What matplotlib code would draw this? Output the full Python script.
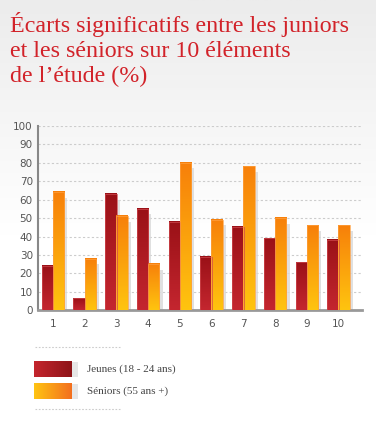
import numpy as np
import matplotlib.pyplot as plt
from matplotlib.colors import LinearSegmentedColormap
from matplotlib.patches import Rectangle

categories = ["1", "2", "3", "4", "5", "6", "7", "8", "9", "10"]
jeunes = [24, 6.5, 63, 55, 48, 29, 45, 39, 26, 38]
seniors = [64, 28, 51, 25, 80, 49, 78, 50, 46, 46]
labels = ["Jeunes (18 - 24 ans)", "Séniors (55 ans +)"]
title_lines = ["Écarts significatifs entre les juniors",
               "et les séniors sur 10 éléments",
               "de l’étude (%)"]

red_cmap = LinearSegmentedColormap.from_list("red", ["#c4262f", "#9a1117"])
orange_cmap = LinearSegmentedColormap.from_list("orange", ["#ffc40f", "#f7800a"])
red_h = LinearSegmentedColormap.from_list("redh", ["#c4252d", "#8e1418"])
orange_h = LinearSegmentedColormap.from_list("orangeh", ["#ffc412", "#f36f1e"])

fig = plt.figure(figsize=(3.76, 4.28), dpi=100)

# background gradient
bg = fig.add_axes([0, 0, 1, 1], zorder=-5)
grad = np.linspace(0, 1, 256).reshape(-1, 1)
bg.imshow(grad, aspect="auto", extent=(0, 1, 0, 1),
          cmap=LinearSegmentedColormap.from_list("bg", ["#ececec", "#ffffff"]),
          vmin=0, vmax=0.55)
bg.set_axis_off()

for i, line in enumerate(title_lines):
    fig.text(10 / 376, 1 - (32 + 25 * i) / 428, line, color="#d2232a",
             fontsize=17.3, family="Liberation Serif", va="baseline", ha="left")

ax = fig.add_axes([0.102, 0.275, 0.860, 0.431])
ax.patch.set_alpha(0)
x = np.arange(1, len(categories) + 1)
w = 0.36
vgrad = np.linspace(0, 1, 100).reshape(-1, 1)


def draw_bar(xc, h, cmap, edge):
    ax.add_patch(Rectangle((xc - w / 2 + 0.1, 0), w, max(h - 3, 0),
                           facecolor="#d9d9d9", edgecolor="none", alpha=0.8, zorder=2))
    ax.imshow(vgrad, aspect="auto", cmap=cmap, origin="lower",
              extent=(xc - w / 2, xc + w / 2, 0, h), zorder=3)
    ax.add_patch(Rectangle((xc - w / 2, 0), w, h, facecolor="none",
                           edgecolor=edge, lw=0.5, zorder=4))


for xi, j, s in zip(x, jeunes, seniors):
    draw_bar(xi - 0.175, j, red_cmap, "#d0494f")
    draw_bar(xi + 0.175, s, orange_cmap, "#ffa040")

ax.set_xlim(0.54, 10.73)
ax.set_ylim(0, 100)
ax.set_yticks(range(0, 101, 10))
ax.set_xticks(x)
ax.set_xticklabels(categories)
ax.yaxis.grid(True, linestyle=(0, (2, 2)), color="#cccccc", lw=0.8)
ax.set_axisbelow(True)
for sp in ["top", "right"]:
    ax.spines[sp].set_visible(False)
ax.spines["left"].set_color("#888888")
ax.spines["left"].set_linewidth(1.5)
ax.spines["bottom"].set_color("#999999")
ax.spines["bottom"].set_linewidth(2)
ax.tick_params(length=0, labelsize=7.5, labelcolor="#555555", pad=4)
ax.tick_params(axis="x", pad=6)

# legend
lg = fig.add_axes([0, 0, 1, 1], zorder=5)
lg.set_axis_off()
hgrad = np.linspace(0, 1, 100).reshape(1, -1)
for y0, cm, lab in [(361, red_h, labels[0]), (383, orange_h, labels[1])]:
    lg.add_patch(Rectangle((72, y0 + 1), 6, 15, facecolor="#e6e6e6", edgecolor="none"))
    lg.imshow(hgrad, aspect="auto", cmap=cm, extent=(34, 72, y0 + 16, y0))
    lg.text(87, y0 + 8, lab, fontsize=8, family="Liberation Serif",
            color="#444444", va="center", ha="left")
for yl in [347, 409]:
    lg.plot([35, 120], [yl, yl], linestyle=(0, (1.5, 1.5)), color="#cccccc", lw=0.8)
lg.set_xlim(0, 376)
lg.set_ylim(428, 0)

fig.savefig("out.png", dpi=100)
